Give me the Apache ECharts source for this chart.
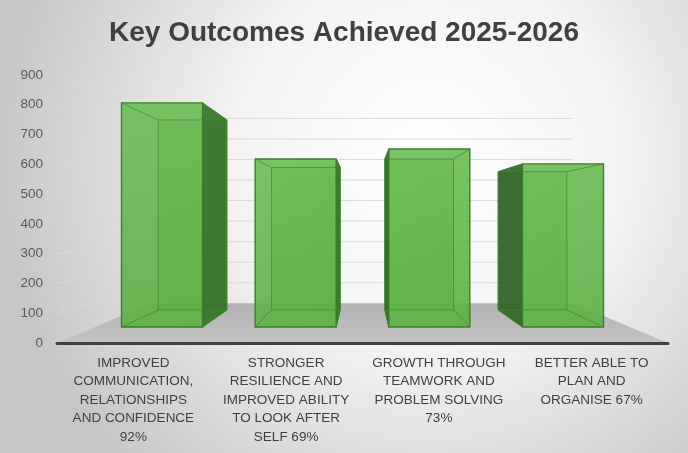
<!DOCTYPE html>
<html>
<head>
    <meta charset="utf-8">
    <script src="https://cdn.jsdelivr.net/npm/echarts@6/dist/echarts.min.js"></script>
    <style>
        html, body { margin: 0; padding: 0; }
        #main { width: 688px; height: 453px; }
    </style>
</head>
<body>
<div id="main"></div>
<script type="text/javascript">
    // chart data
    var categories = [
        'IMPROVED\nCOMMUNICATION,\nRELATIONSHIPS\nAND CONFIDENCE\n92%',
        'STRONGER\nRESILIENCE AND\nIMPROVED ABILITY\nTO LOOK AFTER\nSELF 69%',
        'GROWTH THROUGH\nTEAMWORK AND\nPROBLEM SOLVING\n73%',
        'BETTER ABLE TO\nPLAN AND\nORGANISE 67%'
    ];
    var values = [860, 645, 683, 626];
    var gridTicks = [100, 200, 300, 400, 500, 600, 700, 800, 900];

    // perspective settings (eye height in axis units, depth scale factors)
    var eyeValue = 430;
    var kWall = 0.69;
    var kBarFront = 0.875;
    var kBarBack = 0.742;

    var myChart = echarts.init(document.getElementById('main'));

    function vanish(api) {
        var band = api.size([1, 0])[0];
        var x0 = api.coord([0, 0])[0] - band / 2;
        var x1 = api.coord([categories.length - 1, 0])[0] + band / 2;
        return {
            x: (x0 + x1) / 2,
            y: api.coord([0, eyeValue])[1],
            left: x0,
            right: x1
        };
    }

    function proj(vp, p, k) {
        return [vp.x + (p[0] - vp.x) * k, vp.y + (p[1] - vp.y) * k];
    }

    function renderGrid(params, api) {
        var vp = vanish(api);
        var y = api.coord([0, api.value(0)])[1];
        var a = [vp.left, y];
        var b = proj(vp, a, kWall);
        var c = proj(vp, [vp.right, y], kWall);
        return {
            type: 'polyline',
            shape: {points: [a, b, c]},
            style: {stroke: '#d9d9d9', lineWidth: 1, fill: null}
        };
    }

    function renderFloor(params, api) {
        var vp = vanish(api);
        var y0 = api.coord([0, 0])[1];
        var fl = [vp.left, y0], fr = [vp.right, y0];
        return {
            type: 'polygon',
            shape: {points: [fl, fr, proj(vp, fr, kWall), proj(vp, fl, kWall)]},
            style: {
                fill: new echarts.graphic.LinearGradient(0, 0, 0, 1, [
                    {offset: 0, color: '#b3b3b3'},
                    {offset: 1, color: '#c2c2c2'}
                ])
            }
        };
    }

    function renderBar(params, api) {
        var vp = vanish(api);
        var band = api.size([1, 0])[0];
        var w = band * 0.606;
        var top = api.coord([api.value(0), api.value(1)]);
        var bot = api.coord([api.value(0), 0]);
        var xl = top[0] - w / 2, xr = top[0] + w / 2;
        var c = [[xl, top[1]], [xr, top[1]], [xr, bot[1]], [xl, bot[1]]];
        var f = c.map(function (p) { return proj(vp, p, kBarFront); });
        var b = c.map(function (p) { return proj(vp, p, kBarBack); });
        var edge = '#3b7d2c';
        var kids = [];
        // back face seen through
        kids.push({
            type: 'polygon',
            shape: {points: b},
            style: {fill: 'rgba(90,172,66,0.55)', stroke: null}
        });
        // side face that sticks out past the front face
        if (b[1][0] > f[1][0] + 0.5) {
            kids.push({
                type: 'polygon',
                shape: {points: [f[1], b[1], b[2], f[2]]},
                style: {fill: 'rgba(55,115,42,0.92)', stroke: edge, lineWidth: 1}
            });
        }
        if (b[0][0] < f[0][0] - 0.5) {
            kids.push({
                type: 'polygon',
                shape: {points: [f[0], b[0], b[3], f[3]]},
                style: {fill: 'rgba(50,100,40,0.92)', stroke: edge, lineWidth: 1}
            });
        }
        // front face
        kids.push({
            type: 'polygon',
            shape: {points: f},
            style: {
                fill: new echarts.graphic.LinearGradient(0, 0, 1, 1, [
                    {offset: 0, color: 'rgba(104,188,82,0.88)'},
                    {offset: 1, color: 'rgba(92,176,68,0.9)'}
                ]),
                stroke: edge,
                lineWidth: 1.4
            }
        });
        // inner edges
        kids.push({
            type: 'polygon',
            shape: {points: b},
            style: {fill: null, stroke: 'rgba(60,135,45,0.7)', lineWidth: 1}
        });
        for (var i = 0; i < 4; i++) {
            kids.push({
                type: 'line',
                shape: {x1: f[i][0], y1: f[i][1], x2: b[i][0], y2: b[i][1]},
                style: {stroke: 'rgba(60,135,45,0.7)', lineWidth: 1}
            });
        }
        return {type: 'group', children: kids};
    }

    var opt = {
        backgroundColor: {
            type: 'radial',
            x: 0.62, y: 0.35, r: 0.95,
            colorStops: [
                {offset: 0, color: '#ffffff'},
                {offset: 0.45, color: '#f3f3f3'},
                {offset: 1, color: '#c6c6c6'}
            ]
        },
        title: {
            text: 'Key Outcomes Achieved 2025-2026',
            left: 'center',
            top: 14,
            textStyle: {
                fontFamily: 'Liberation Sans',
                fontSize: 28,
                fontWeight: 'bold',
                color: '#404040'
            }
        },
        grid: {left: 57, right: 20, top: 75, bottom: 110},
        xAxis: {
            type: 'category',
            data: categories,
            z: 10,
            axisLine: {lineStyle: {color: '#404040', width: 3}},
            axisTick: {show: false},
            axisLabel: {
                interval: 0,
                margin: 11,
                fontFamily: 'Liberation Sans',
                fontSize: 13.5,
                lineHeight: 18.5,
                color: '#404040'
            }
        },
        yAxis: {
            type: 'value',
            min: 0,
            max: 900,
            interval: 100,
            axisLine: {show: false},
            axisTick: {show: false},
            splitLine: {show: false},
            axisLabel: {
                margin: 14,
                fontFamily: 'Liberation Sans',
                fontSize: 13.5,
                color: '#595959'
            }
        },
        series: [
            {
                type: 'custom',
                z: 1,
                renderItem: renderGrid,
                data: gridTicks.map(function (v) { return [v]; }),
                encode: {y: 0},
                silent: true
            },
            {
                type: 'custom',
                z: 2,
                renderItem: renderFloor,
                data: [[0]],
                silent: true
            },
            {
                type: 'custom',
                z: 3,
                renderItem: renderBar,
                data: values.map(function (v, i) { return [i, v]; }),
                encode: {x: 0, y: 1}
            }
        ]
    };

    myChart.setOption(option = opt);
</script>
</body>
</html>
